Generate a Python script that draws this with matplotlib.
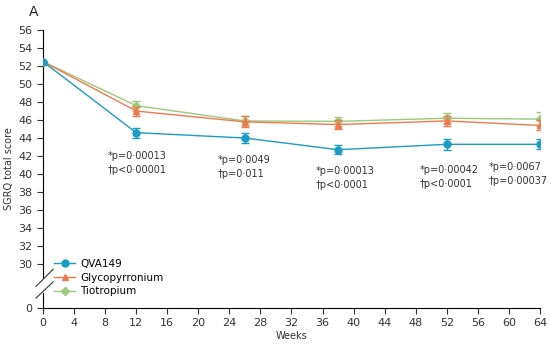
import matplotlib.pyplot as plt
from matplotlib.lines import Line2D

# SGRQ total score over time, three treatment arms
weeks = [0, 12, 26, 38, 52, 64]
qva149 = [52.5, 44.6, 44.0, 42.7, 43.3, 43.3]
qva149_err = [0.0, 0.55, 0.55, 0.5, 0.6, 0.55]
glyco = [52.5, 47.0, 45.8, 45.5, 45.9, 45.4]
glyco_err = [0.0, 0.5, 0.6, 0.5, 0.6, 0.55]
tio = [52.5, 47.6, 45.9, 45.85, 46.2, 46.1]
tio_err = [0.0, 0.55, 0.6, 0.5, 0.55, 0.75]

pvals = ['*p=0·00013\n†p<0·00001', '*p=0·0049\n†p=0·011', '*p=0·00013\n†p<0·0001',
         '*p=0·00042\n†p<0·0001', '*p=0·0067\n†p=0·00037']
pval_x = [8.3, 22.5, 35.1, 48.5, 57.4]
pval_y = [42.6, 42.1, 40.9, 41.0, 41.3]

yticks = [30, 32, 34, 36, 38, 40, 42, 44, 46, 48, 50, 52, 54, 56]
y_zero = 25.1  # where the broken axis shows "0"

blue = '#1a9cc4'
orange = '#f0784c'
green = '#9cc97c'

fig = plt.figure(figsize=(5.51, 3.5), dpi=100)
ax = fig.add_axes([0.078, 0.12, 0.902, 0.794])

ax.errorbar(weeks, tio, yerr=tio_err, color=green, marker='D', ms=4, lw=1,
            capsize=3, elinewidth=1, zorder=3)
ax.errorbar(weeks, glyco, yerr=glyco_err, color=orange, marker='^', ms=5, lw=1,
            capsize=3, elinewidth=1, zorder=4)
ax.errorbar(weeks, qva149, yerr=qva149_err, color=blue, marker='o', ms=5, lw=1,
            capsize=3, elinewidth=1, zorder=5)

for x, y, t in zip(pval_x, pval_y, pvals):
    ax.text(x, y, t, ha='left', va='top', fontsize=7, color='#333333', linespacing=1.5)

ax.set_xlim(0, 64)
ax.set_ylim(y_zero, 56)
ax.set_xticks(range(0, 65, 4))
ax.set_yticks([y_zero] + yticks)
ax.set_yticklabels(['0'] + [str(t) for t in yticks])
ax.tick_params(labelsize=8, length=4, color='#333333', labelcolor='#333333')
ax.spines['top'].set_visible(False)
ax.spines['right'].set_visible(False)
ax.spines['left'].set_bounds(28.6, 56)

# axis break marks
ax.plot([0, 0], [y_zero, 26.8], color='black', lw=0.8, clip_on=False)
ax.plot([-0.9, 1.3], [27.5, 29.4], color='#333333', lw=0.8, clip_on=False)
ax.plot([-0.9, 1.3], [26.2, 28.0], color='#333333', lw=0.8, clip_on=False)

ax.set_xlabel('Weeks', fontsize=7, color='#333333', labelpad=2)
ax.set_ylabel('SGRQ total score', fontsize=7, color='#333333', labelpad=3)

handles = [Line2D([], [], color=blue, marker='o', ms=5, lw=1),
           Line2D([], [], color=orange, marker='^', ms=5, lw=1),
           Line2D([], [], color=green, marker='D', ms=4, lw=1)]
ax.legend(handles, ['QVA149', 'Glycopyrronium', 'Tiotropium'], loc='lower left',
          bbox_to_anchor=(0.01, 0.02), frameon=False, fontsize=7.5, handlelength=2,
          handletextpad=0.5, labelspacing=0.35, borderaxespad=0.2)

fig.text(0.053, 0.965, 'A', fontsize=10, color='#222222', ha='left', va='center')

plt.savefig('out.png', dpi=100)
